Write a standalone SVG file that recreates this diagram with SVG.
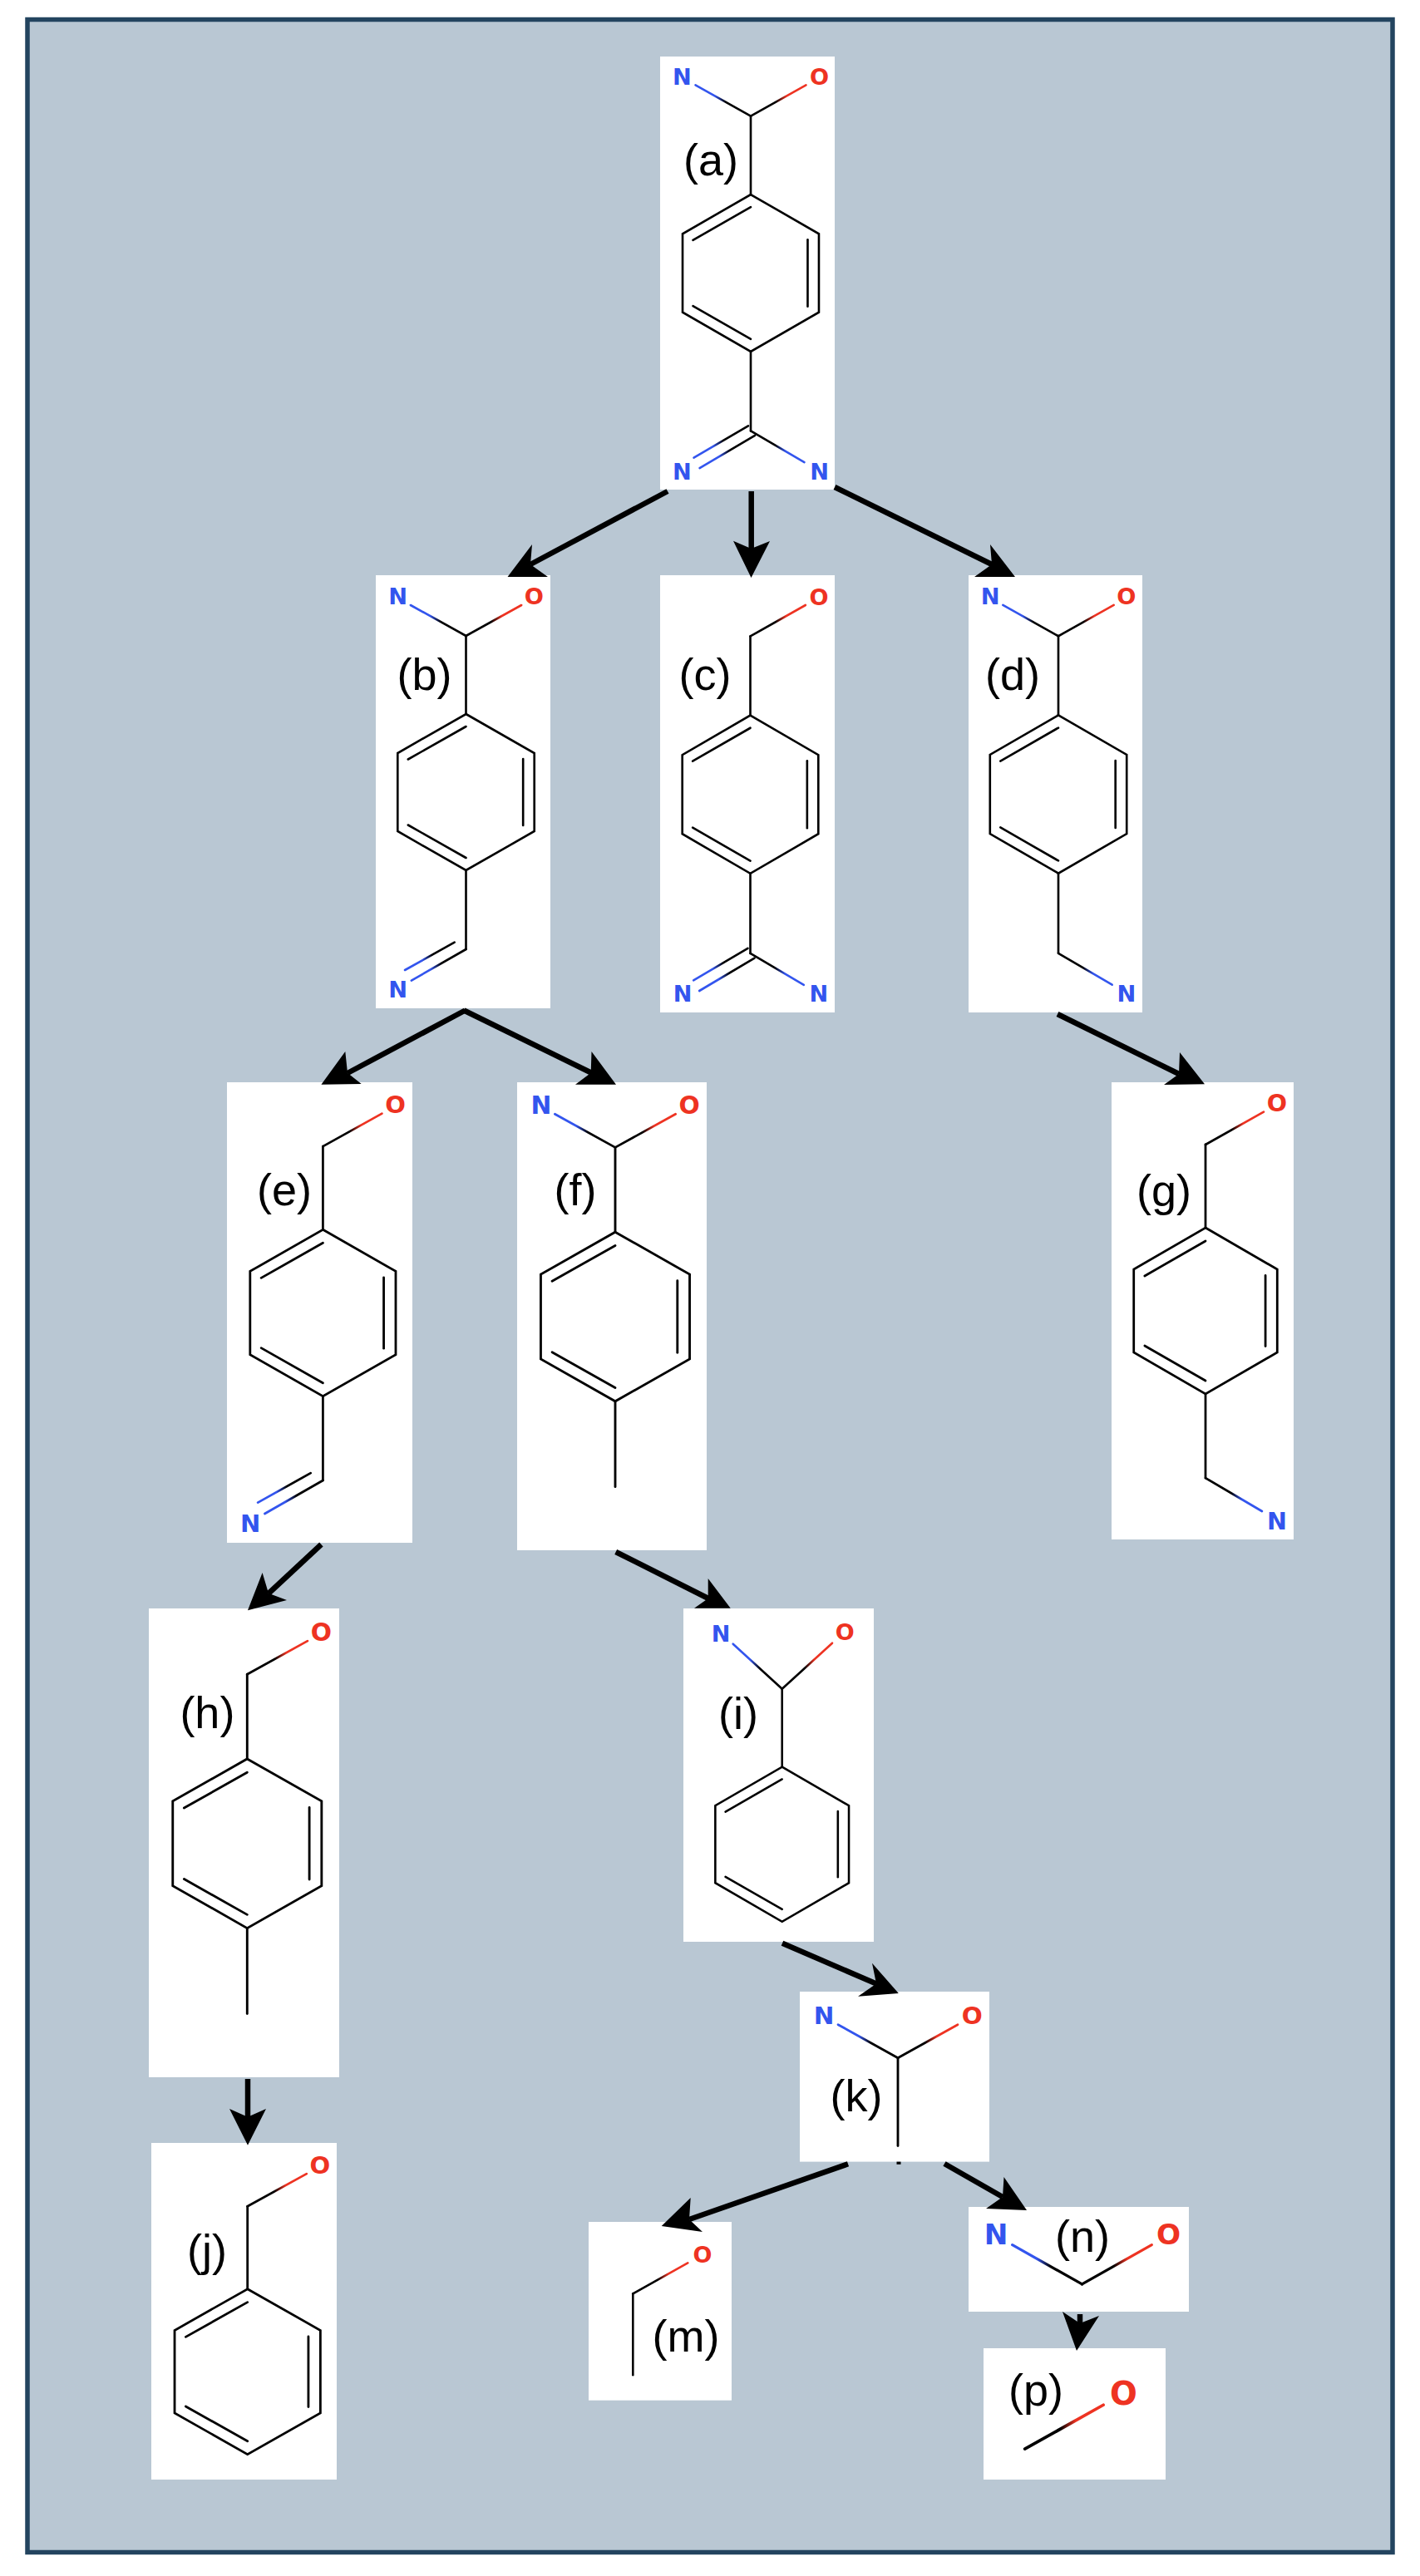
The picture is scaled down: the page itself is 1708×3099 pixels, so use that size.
<svg xmlns="http://www.w3.org/2000/svg" width="1708" height="3099" viewBox="0 0 1708 3099">
<style>
.box{fill:#fff}
.b{stroke:#000;stroke-width:2.6;fill:none;stroke-linecap:round;stroke-linejoin:miter}
.n{font-family:"DejaVu Sans",sans-serif;font-weight:700;font-size:27px;fill:#3355ee;text-anchor:middle}
.o{font-family:"DejaVu Sans",sans-serif;font-weight:700;font-size:27px;fill:#ee3322;text-anchor:middle}
.lbl{font-family:"Liberation Sans",Arial,sans-serif;font-size:54px;fill:#000;text-anchor:middle}
.al{stroke:#000;stroke-width:6.5;fill:none}
.ah{fill:#000;stroke:none}
</style>
<defs>
<linearGradient id="gn" x1="0" x2="1" y1="0" y2="0"><stop offset="0" stop-color="#3355ee"/><stop offset=".35" stop-color="#3355ee"/><stop offset=".55" stop-color="#000"/></linearGradient>
<linearGradient id="gnr" x1="1" x2="0" y1="0" y2="0"><stop offset="0" stop-color="#3355ee"/><stop offset=".35" stop-color="#3355ee"/><stop offset=".55" stop-color="#000"/></linearGradient>
<linearGradient id="go" x1="1" x2="0" y1="0" y2="0"><stop offset="0" stop-color="#ee3322"/><stop offset=".35" stop-color="#ee3322"/><stop offset=".55" stop-color="#000"/></linearGradient>
<g id="ring" class="b">
<polygon points="0,-94 81.4,-47 81.4,47 0,94 -81.4,47 -81.4,-47"/>
<line x1="-69" y1="-39.5" x2="0" y2="-79"/>
<line x1="68" y1="-40" x2="68" y2="40"/>
<line x1="-69" y1="39.5" x2="0" y2="79"/>
</g>
<line id="stemT" class="b" x1="0" y1="-94" x2="0" y2="-188"/>
<line id="stemB" class="b" x1="0" y1="94" x2="0" y2="189"/>
<line id="bN" class="b" x1="-66" y1="-225" x2="0" y2="-188" style="stroke:url(#gn)"/>
<line id="bO" class="b" x1="0" y1="-188" x2="66" y2="-225" style="stroke:url(#go)"/>
<line id="bNr" class="b" x1="0" y1="189" x2="64" y2="226.5" style="stroke:url(#gnr)"/>
<g id="dblNc" class="b" style="stroke:url(#gn)">
<line x1="-68" y1="221" x2="-3" y2="183"/>
<line x1="-61" y1="233.5" x2="5" y2="194.5"/>
</g>
<g id="dblNt" class="b" style="stroke:url(#gn)">
<line x1="-65" y1="226.6" x2="0" y2="189"/>
<line x1="-72.7" y1="214" x2="-13.7" y2="180.7"/>
</g>
</defs>
<rect x="0" y="0" width="1708" height="3099" fill="#fff"/>
<rect x="33" y="23.5" width="1642" height="3047" fill="#b9c7d3" stroke="#23445f" stroke-width="5.5"/>

<g id="node-a">
<rect class="box" x="794" y="68" width="210" height="521"/>
<g transform="translate(903,328.5) scale(1.007,1.005)">
<use href="#ring"/><use href="#stemT"/><use href="#stemB"/><use href="#bN"/><use href="#bO"/><use href="#dblNc"/><use href="#bNr"/>
<text class="n" x="-82" y="-225.5">N</text><text class="o" x="82" y="-225.5">O</text>
<text class="n" x="-82" y="247.5">N</text><text class="n" x="82" y="247.5">N</text>
</g>
<text class="lbl" x="855" y="211">(a)</text>
</g>

<g id="node-b">
<rect class="box" x="452" y="692" width="210" height="521"/>
<g transform="translate(560.5,953) scale(1.01,1)">
<use href="#ring"/><use href="#stemT"/><use href="#stemB"/><use href="#bN"/><use href="#bO"/><use href="#dblNt"/>
<text class="n" x="-81" y="-226">N</text><text class="o" x="81" y="-226">O</text>
<text class="n" x="-81" y="247">N</text>
</g>
<text class="lbl" x="510.5" y="830">(b)</text>
</g>

<g id="node-c">
<rect class="box" x="794" y="692" width="210" height="526"/>
<g transform="translate(902.5,955.7) scale(1.005,1.012)">
<use href="#ring"/><use href="#stemT"/><use href="#stemB"/><use href="#bO"/><use href="#dblNc"/><use href="#bNr"/>
<text class="o" x="82" y="-225.5">O</text>
<text class="n" x="-81" y="246.5">N</text><text class="n" x="82" y="246.5">N</text>
</g>
<text class="lbl" x="848" y="830">(c)</text>
</g>

<g id="node-d">
<rect class="box" x="1165" y="692" width="209" height="526"/>
<g transform="translate(1273,955.5) scale(1.01,1.012)">
<use href="#ring"/><use href="#stemT"/><use href="#stemB"/><use href="#bN"/><use href="#bO"/><use href="#bNr"/>
<text class="n" x="-81" y="-225.5">N</text><text class="o" x="81" y="-225.5">O</text>
<text class="n" x="81" y="246.5">N</text>
</g>
<text class="lbl" x="1218" y="830">(d)</text>
</g>

<g id="node-e">
<rect class="box" x="273" y="1302" width="223" height="554"/>
<g transform="translate(388.4,1579.5) scale(1.076,1.066)">
<use href="#ring"/><use href="#stemT"/><use href="#stemB"/><use href="#bO"/><use href="#dblNt"/>
<text class="o" x="81" y="-225.5">O</text>
<text class="n" x="-81" y="247">N</text>
</g>
<text class="lbl" x="342" y="1450">(e)</text>
</g>

<g id="node-f">
<rect class="box" x="622" y="1302" width="228" height="563"/>
<g transform="translate(740,1584) scale(1.1,1.083)">
<use href="#ring"/><use href="#stemT"/><use href="#stemB"/><use href="#bN"/><use href="#bO"/>
<text class="n" x="-81" y="-225.5">N</text><text class="o" x="81" y="-225.5">O</text>
</g>
<text class="lbl" x="692" y="1450">(f)</text>
</g>

<g id="node-g">
<rect class="box" x="1337" y="1302" width="219" height="550"/>
<g transform="translate(1450,1577) scale(1.06,1.064)">
<use href="#ring"/><use href="#stemT"/><use href="#stemB"/><use href="#bO"/><use href="#bNr"/>
<text class="o" x="81" y="-225.5">O</text>
<text class="n" x="81" y="247">N</text>
</g>
<text class="lbl" x="1400" y="1450.5">(g)</text>
</g>

<g id="node-h">
<rect class="box" x="179" y="1935" width="229" height="564"/>
<g transform="translate(297.3,2217.8) scale(1.1,1.083)">
<use href="#ring"/><use href="#stemT"/><use href="#stemB"/><use href="#bO"/>
<text class="o" x="81" y="-225.5">O</text>
</g>
<text class="lbl" x="249.4" y="2079">(h)</text>
</g>

<g id="node-i">
<rect class="box" x="822" y="1935" width="229" height="401"/>
<g transform="translate(940.7,2218.7) scale(0.987,0.99)">
<use href="#ring"/><use href="#stemT"/>
</g>
<g transform="translate(940.7,2031.7)">
<line class="b" x1="-59" y1="-54" x2="0" y2="0" style="stroke:url(#gn)"/>
<line class="b" x1="0" y1="0" x2="60.3" y2="-55" style="stroke:url(#go)"/>
<text class="n" style="font-size:27px" x="-73.7" y="-56.5">N</text>
<text class="o" style="font-size:27px" x="75.6" y="-58.5">O</text>
</g>
<text class="lbl" x="888" y="2079.5">(i)</text>
</g>

<g id="node-j">
<rect class="box" x="182" y="2578" width="223" height="405"/>
<g transform="translate(297.7,2853.2) scale(1.077,1.058)">
<use href="#ring"/><use href="#stemT"/><use href="#bO"/>
<text class="o" x="81" y="-225.5">O</text>
</g>
<text class="lbl" x="249" y="2726">(j)</text>
</g>

<g id="node-k">
<rect class="box" x="962" y="2396" width="228" height="204.6"/>
<g transform="translate(1080,2678.7) scale(1.09,1.08)">
<line class="b" x1="0" y1="-188" x2="0" y2="-90"/><use href="#bN"/><use href="#bO"/>
<text class="n" x="-81.5" y="-226">N</text><text class="o" x="82" y="-226">O</text>
</g>
<text class="lbl" x="1030" y="2540">(k)</text>
</g>

<g id="node-m">
<rect class="box" x="708" y="2673" width="172" height="214.7"/>
<g transform="translate(761.3,2947.3)">
<line class="b" x1="0" y1="-188" x2="0" y2="-90"/><use href="#bO"/>
<text class="o" x="83.7" y="-225.3">O</text>
</g>
<text class="lbl" x="825" y="2828.5">(m)</text>
</g>

<g id="node-n">
<rect class="box" x="1165" y="2655" width="265" height="126"/>
<g transform="translate(1301.5,2988) scale(1.27,1.277)">
<use href="#bN"/><use href="#bO"/>
<text class="n" x="-81.5" y="-225.5">N</text><text class="o" x="82" y="-225.5">O</text>
</g>
<text class="lbl" x="1302" y="2708.5">(n)</text>
</g>

<g id="node-p">
<rect class="box" x="1183" y="2825" width="219" height="158"/>
<g transform="translate(1232.7,3215) scale(1.43)">
<use href="#bO"/>
<text class="o" x="83" y="-225.5">O</text>
</g>
<text class="lbl" x="1246" y="2894">(p)</text>
</g>

<g id="connectors">
<g id="a-b"><line class="al" x1="803" y1="591" x2="638" y2="679"/><polygon class="ah" points="610.5,694 640,655 638,679 659,694"/></g>
<g id="a-c"><line class="al" x1="903.7" y1="591" x2="903.7" y2="662"/><polygon class="ah" points="903.5,695 882,650.7 903.5,660 926,651"/></g>
<g id="a-d"><line class="al" x1="1004" y1="586" x2="1195" y2="680"/><polygon class="ah" points="1221,694 1191,655 1193,679 1172,694"/></g>
<g id="b-e"><line class="al" x1="559.5" y1="1215.5" x2="418" y2="1291"/><polygon class="ah" points="386.4,1304.7 415.3,1265 418,1290.7 434.7,1304"/></g>
<g id="b-f"><line class="al" x1="558" y1="1215.5" x2="712" y2="1291"/><polygon class="ah" points="741,1304.7 711.5,1265 710.7,1290.7 692,1304.7"/></g>
<g id="d-g"><line class="al" x1="1272" y1="1220" x2="1418" y2="1292"/><polygon class="ah" points="1449,1304.3 1419,1266 1418,1292 1400,1305"/></g>
<g id="e-h"><line class="al" x1="386.4" y1="1858" x2="323" y2="1917"/><polygon class="ah" points="298,1937.3 315.6,1892 323,1916.7 345,1925"/></g>
<g id="f-i"><line class="al" x1="740.7" y1="1867" x2="852" y2="1923"/><polygon class="ah" points="878.7,1934.7 851.7,1899 851.7,1923 835,1934.7"/></g>
<g id="h-j"><line class="al" x1="298" y1="2501" x2="298" y2="2548"/><polygon class="ah" points="298,2580.7 276,2537 298,2546.7 320,2537"/></g>
<g id="i-k"><line class="al" x1="941" y1="2337.7" x2="1054" y2="2386.5"/><polygon class="ah" points="1080.8,2398 1049,2361.7 1054,2386.5 1032,2401.7"/></g>
<g id="k-m"><line class="al" x1="1020" y1="2603.3" x2="829" y2="2670"/><polygon class="ah" points="795.7,2678 830.7,2644 829,2670 845,2685"/></g>
<g id="k-n"><line class="al" x1="1136" y1="2603" x2="1206" y2="2643"/><polygon class="ah" points="1235,2659 1207.5,2619 1206,2643 1186,2657"/></g>
<g id="n-p"><line class="al" x1="1299" y1="2784" x2="1299" y2="2796"/><polygon class="ah" points="1295,2828 1278,2781 1299,2795 1322,2786"/></g>
<rect id="k-tick" class="ah" x="1078.5" y="2600.6" width="5" height="3.2"/>
</g>
</svg>
